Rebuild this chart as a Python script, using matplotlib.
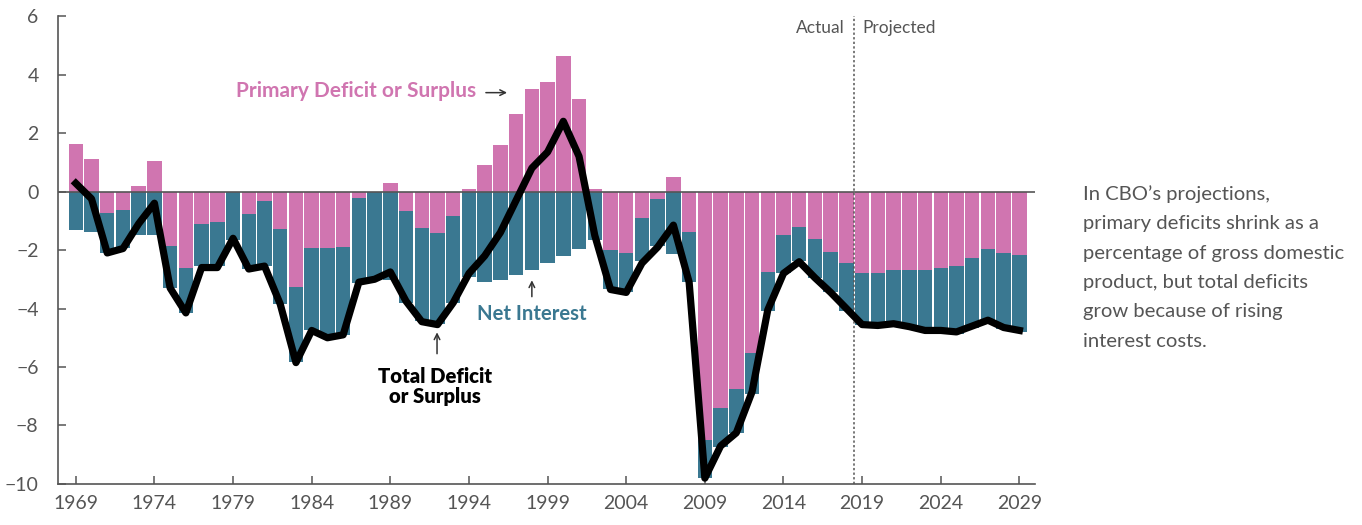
import matplotlib.pyplot as plt
import numpy as np

# Datos (porcentaje del PIB)
years = np.arange(1969, 2030)

primary = [1.62, 1.10, -0.72, -0.63, 0.19, 1.04, -1.86, -2.62, -1.10, -1.03,
           0.00, -0.76, -0.32, -1.28, -3.27, -1.93, -1.93, -1.89, -0.22, 0.00,
           0.28, -0.66, -1.24, -1.41, -0.83, 0.08, 0.91, 1.58, 2.64, 3.49,
           3.76, 4.62, 3.15, 0.09, -1.99, -2.11, -0.90, -0.25, 0.49, -1.37,
           -8.49, -7.40, -6.76, -5.53, -2.74, -1.48, -1.21, -1.62, -2.06, -2.46,
           -2.77, -2.80, -2.70, -2.70, -2.70, -2.60, -2.56, -2.26, -1.96, -2.11,
           -2.17]

net_interest = [1.30, 1.37, 1.37, 1.31, 1.47, 1.48, 1.44, 1.52, 1.46, 1.53,
                1.65, 1.90, 2.21, 2.57, 2.55, 2.82, 3.05, 3.02, 2.91, 3.02,
                3.02, 3.14, 3.20, 3.11, 2.97, 2.91, 3.08, 3.04, 2.87, 2.70,
                2.43, 2.20, 1.95, 1.67, 1.35, 1.33, 1.46, 1.63, 2.12, 1.73,
                1.31, 1.32, 1.48, 1.39, 1.36, 1.31, 1.18, 1.34, 1.39, 1.64,
                1.80, 1.80, 1.85, 1.95, 2.10, 2.20, 2.30, 2.40, 2.55, 2.60,
                2.64]

total = [0.28, -0.25, -2.10, -1.95, -1.10, -0.40, -3.30, -4.15, -2.60, -2.60,
         -1.60, -2.65, -2.55, -3.85, -5.85, -4.75, -5.00, -4.90, -3.10, -3.00,
         -2.75, -3.75, -4.45, -4.55, -3.80, -2.80, -2.20, -1.40, -0.30, 0.80,
         1.35, 2.40, 1.20, -1.50, -3.35, -3.45, -2.45, -1.90, -1.15, -3.10,
         -9.80, -8.70, -8.25, -6.85, -4.05, -2.80, -2.40, -2.95, -3.45, -4.00,
         -4.55, -4.58, -4.52, -4.62, -4.75, -4.75, -4.80, -4.60, -4.40, -4.65,
         -4.75]

y_ticks = [6, 4, 2, 0, -2, -4, -6, -8, -10]
x_ticks = [1969, 1974, 1979, 1984, 1989, 1994, 1999, 2004, 2009, 2014, 2019, 2024, 2029]

pink = '#d075b0'
teal = '#3a7891'
cinza = '#555555'

plt.rcParams['font.family'] = ['Lato', 'DejaVu Sans']

fig = plt.figure(figsize=(13.62, 5.25), dpi=100)
ax = fig.add_axes([0.0426, 0.0781, 0.7174, 0.8914])

primary = np.array(primary)
net_interest = np.array(net_interest)

# barra de juros começa no fim do déficit primário (ou em zero, se superávit)
base_juros = np.minimum(primary, 0)

ax.bar(years, primary, width=0.92, color=pink, linewidth=0, zorder=2)
ax.bar(years, -net_interest, bottom=base_juros, width=0.92, color=teal, linewidth=0, zorder=2)
ax.plot(years, total, color='black', linewidth=5.2, zorder=4)

ax.axhline(0, color=cinza, linewidth=1.2, zorder=3)
ax.axvline(2018.5, color=cinza, linewidth=1.1, linestyle=(0, (1.5, 1.5)), zorder=3)

ax.set_xlim(1967.87, 2030.0)
ax.set_ylim(-10, 6)
ax.set_xticks(x_ticks)
ax.set_yticks(y_ticks)
ax.set_yticklabels([str(t).replace('-', '\u2212') for t in y_ticks])

for lado in ['top', 'right']:
    ax.spines[lado].set_visible(False)
for lado in ['left', 'bottom']:
    ax.spines[lado].set_color(cinza)
    ax.spines[lado].set_linewidth(1.2)

ax.tick_params(direction='in', length=6, width=1.1, color=cinza, labelcolor=cinza, labelsize=14)
ax.tick_params(axis='y', pad=14)
ax.tick_params(axis='x', pad=8)

# rótulos
ax.text(2017.9, 5.6, 'Actual', ha='right', va='center', fontsize=12.5, color=cinza)
ax.text(2019.0, 5.6, 'Projected', ha='left', va='center', fontsize=12.5, color=cinza)

ax.text(1979.2, 3.42, 'Primary Deficit or Surplus', ha='left', va='center',
        fontsize=15, fontweight='bold', color=pink)
ax.annotate('', xy=(1996.6, 3.38), xytext=(1994.9, 3.38),
            arrowprops=dict(arrowstyle='->', color='#333333', lw=1.1))

ax.text(1997.97, -4.2, 'Net Interest', ha='center', va='center',
        fontsize=14.6, fontweight='bold', color=teal)
ax.annotate('', xy=(1998.0, -2.94), xytext=(1998.0, -3.69),
            arrowprops=dict(arrowstyle='->', color='#333333', lw=1.1))

ax.text(1991.85, -6.67, 'Total Deficit\nor Surplus', ha='center', va='center',
        fontsize=14.6, fontweight='heavy', color='black', linespacing=1.05)
ax.annotate('', xy=(1991.97, -4.72), xytext=(1991.97, -5.64),
            arrowprops=dict(arrowstyle='->', color='#333333', lw=1.1))

fig.text(0.795, 0.647,
         'In CBO\u2019s projections,\nprimary deficits shrink as a\npercentage of gross domestic\n'
         'product, but total deficits\ngrow because of rising\ninterest costs.',
         ha='left', va='top', fontsize=14.6, color=cinza, linespacing=1.88)

fig.savefig('out.png', dpi=100)
